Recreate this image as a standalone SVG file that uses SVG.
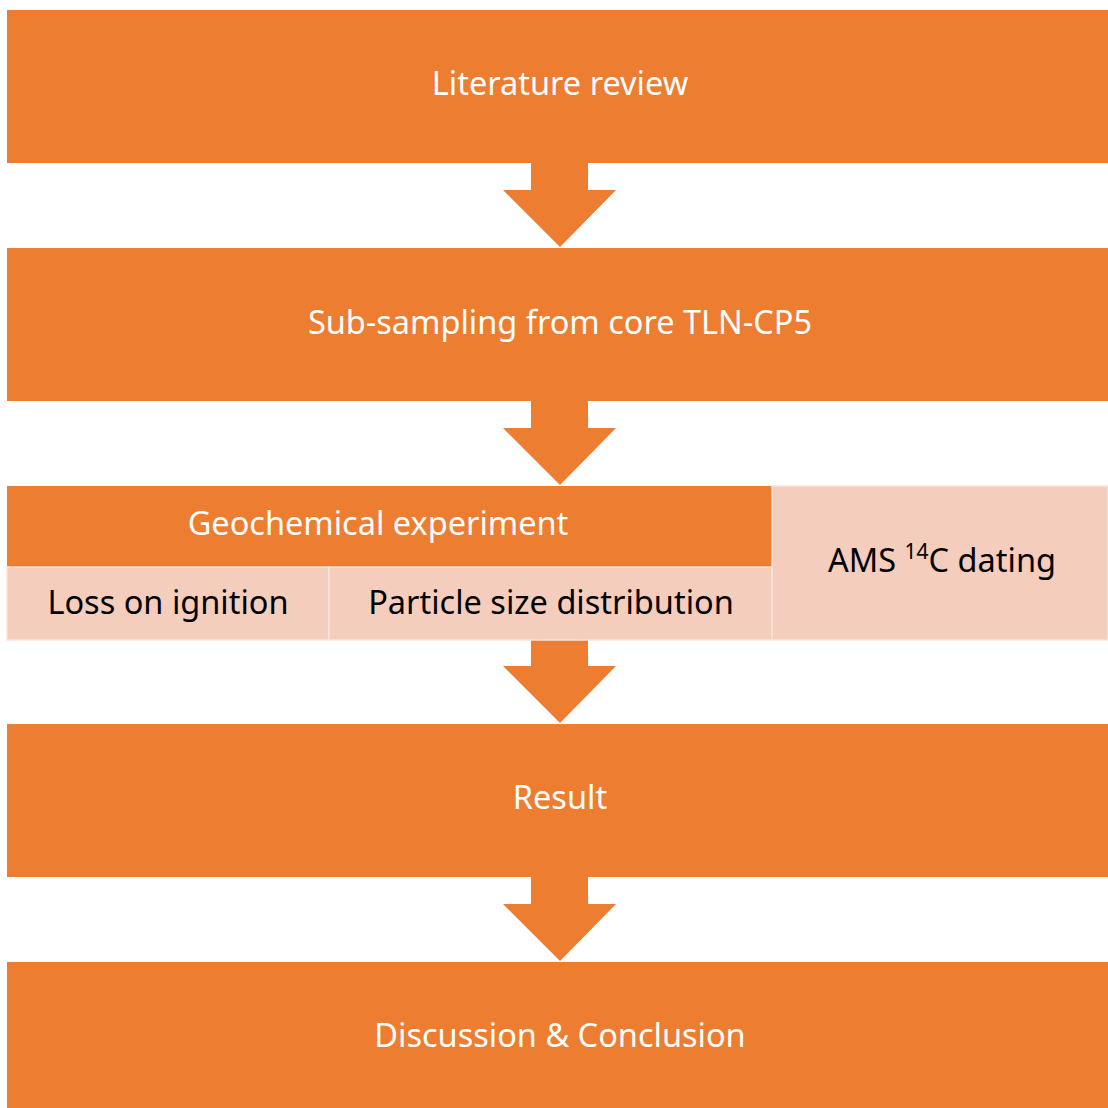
<svg xmlns="http://www.w3.org/2000/svg" width="1108" height="1108" viewBox="0 0 1108 1108">
<defs>
<style>
.o{fill:#ED7D31;}
.l{fill:#F4CDBD;stroke:#F9E3DA;stroke-width:1.5;}
.tw{font-family:"Noto Sans","Open Sans",sans-serif;font-size:32.5px;fill:#FFFFFF;text-anchor:middle;}
.tb{font-family:"Noto Sans","Open Sans",sans-serif;font-size:32.5px;fill:#000000;text-anchor:middle;}
</style>
<path id="arr" d="M-29,0 H28 V27 H56 L0,84 L-57,27 H-29 Z" class="o"/>
</defs>
<g id="connectors">
<use href="#arr" x="560" y="163"/>
<use href="#arr" x="560" y="401"/>
<use href="#arr" x="560" y="639"/>
<use href="#arr" x="560" y="877"/>
</g>
<g id="literature">
<rect class="o" x="7" y="10" width="1101" height="153"/>
<text class="tw" x="560" y="95">Literature review</text>
</g>
<g id="subsampling">
<rect class="o" x="7" y="248" width="1101" height="153"/>
<text class="tw" x="560" y="334">Sub-sampling from core TLN-CP5</text>
</g>
<g id="geochemical">
<rect class="o" x="7" y="486" width="765" height="81"/>
<text class="tw" x="378" y="535">Geochemical experiment</text>
</g>
<g id="loi">
<rect class="l" x="7" y="567" width="322" height="73"/>
<text class="tb" x="168" y="614">Loss on ignition</text>
</g>
<g id="psd">
<rect class="l" x="329" y="567" width="443" height="73"/>
<text class="tb" x="551" y="614">Particle size distribution</text>
</g>
<g id="ams">
<rect class="l" x="772" y="486" width="336" height="154"/>
<text class="tb" x="942" y="572">AMS <tspan font-size="21" dy="-13">14</tspan><tspan dy="13">C dating</tspan></text>
</g>
<g id="result">
<rect class="o" x="7" y="724" width="1101" height="153"/>
<text class="tw" x="560" y="809">Result</text>
</g>
<g id="discussion">
<rect class="o" x="7" y="962" width="1101" height="146"/>
<text class="tw" x="560" y="1047">Discussion &amp; Conclusion</text>
</g>
</svg>
